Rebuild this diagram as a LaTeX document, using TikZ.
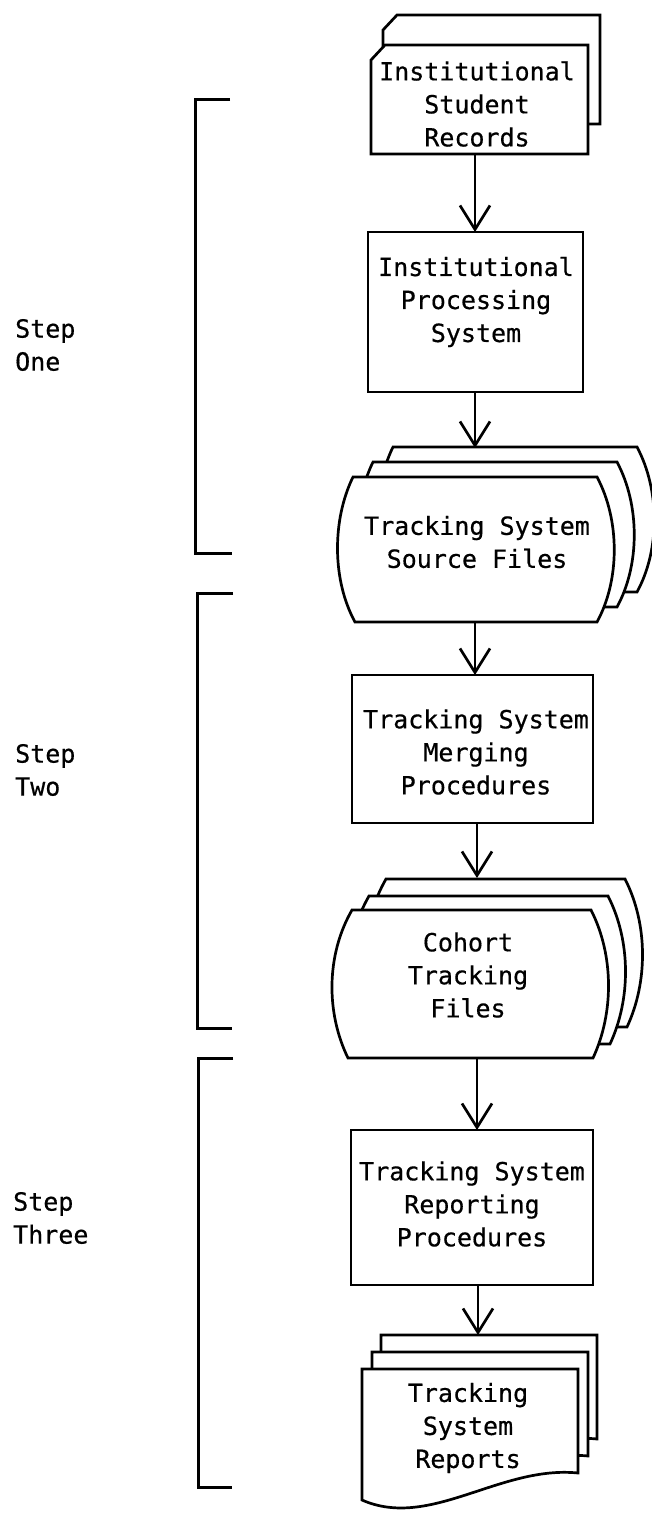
\documentclass[tikz,border=0pt]{standalone}
\usepackage{fontspec}
\newfontfamily\flowmono{DejaVu Sans Mono}[FakeBold=0.5]
\usetikzlibrary{arrows.meta}

\begin{document}
\begin{tikzpicture}[x=1pt,y=-1pt,
  sheet/.style={draw,fill=white,line width=2.7pt},
  procbox/.style={draw,line width=2.7pt,inner sep=0pt,outer sep=0pt},
  txt/.style={font=\flowmono\fontsize{25}{33}\selectfont,align=center,inner sep=0pt},
  steptxt/.style={txt,align=left,anchor=west},
  flow/.style={line width=2.7pt,-{Straight Barb[length=24pt,width=30pt,line width=2.7pt]}},
  bracket/.style={line width=3pt}]
  \useasboundingbox (0,0) rectangle (651,1513);

  % Institutional Student Records
  \draw[sheet] (383,124) -- (383,30) -- (397,15) -- (600,15) -- (600,124) -- cycle;
  \draw[sheet] (371,154) -- (371,60) -- (385,45) -- (588,45) -- (588,154) -- cycle;
  \node[txt] (records) at (477,104) {Institutional\\Student\\Records};
  \coordinate (records-s) at (475,154);

  % Institutional Processing System
  \node[procbox,minimum width=215pt,minimum height=160pt] (procsys) at (475.5,312) {};
  \node[txt] (procsys-txt) at (476,302) {Institutional\\Processing\\System};

  % Tracking System Source Files
  \draw[sheet,shift={(40,-30)}] (353,477) -- (597,477) .. controls (620,520) and (620,580) .. (597,622) -- (355,622) .. controls (332,580) and (332,520) .. (353,477) -- cycle;
  \draw[sheet,shift={(20,-15)}] (353,477) -- (597,477) .. controls (620,520) and (620,580) .. (597,622) -- (355,622) .. controls (332,580) and (332,520) .. (353,477) -- cycle;
  \draw[sheet] (353,477) -- (597,477) .. controls (620,520) and (620,580) .. (597,622) -- (355,622) .. controls (332,580) and (332,520) .. (353,477) -- cycle;
  \node[txt] (srcfiles) at (477,542) {Tracking System\\Source Files};
  \coordinate (srcfiles-n) at (475,448);
  \coordinate (srcfiles-s) at (475,622);

  % Tracking System Merging Procedures
  \node[procbox,minimum width=241pt,minimum height=148pt] (merging) at (472.5,749) {};
  \node[txt] (merging-txt) at (476,752) {Tracking System\\Merging\\Procedures};

  % Cohort Tracking Files
  \draw[sheet,shift={(34,-31)}] (352,910) -- (591,910) .. controls (614,955) and (614,1013) .. (593,1058) -- (348,1058) .. controls (326,1013) and (326,955) .. (352,910) -- cycle;
  \draw[sheet,shift={(17,-14)}] (352,910) -- (591,910) .. controls (614,955) and (614,1013) .. (593,1058) -- (348,1058) .. controls (326,1013) and (326,955) .. (352,910) -- cycle;
  \draw[sheet] (352,910) -- (591,910) .. controls (614,955) and (614,1013) .. (593,1058) -- (348,1058) .. controls (326,1013) and (326,955) .. (352,910) -- cycle;
  \node[txt] (cohort) at (468,975) {Cohort\\Tracking\\Files};
  \coordinate (cohort-n) at (477,878);
  \coordinate (cohort-s) at (477,1058);

  % Tracking System Reporting Procedures
  \node[procbox,minimum width=242pt,minimum height=155pt] (reporting) at (472,1207.5) {};
  \node[txt] (reporting-txt) at (472,1204) {Tracking System\\Reporting\\Procedures};

  % Tracking System Reports
  \draw[sheet,shift={(19,-34)}] (362,1369) -- (578,1369) -- (578,1473) .. controls (500,1465) and (430,1530) .. (362,1500) -- cycle;
  \draw[sheet,shift={(10,-17)}] (362,1369) -- (578,1369) -- (578,1473) .. controls (500,1465) and (430,1530) .. (362,1500) -- cycle;
  \draw[sheet] (362,1369) -- (578,1369) -- (578,1473) .. controls (500,1465) and (430,1530) .. (362,1500) -- cycle;
  \node[txt] (reports) at (468,1428) {Tracking\\System\\Reports};
  \coordinate (reports-n) at (478,1335);

  % flow arrows
  \draw[flow] (records-s) -- (records-s |- procsys.north);
  \draw[flow] (procsys.south -| srcfiles-n) -- (srcfiles-n);
  \draw[flow] (srcfiles-s) -- (srcfiles-s |- merging.north);
  \draw[flow] (merging.south -| cohort-n) -- (cohort-n);
  \draw[flow] (cohort-s) -- (cohort-s |- reporting.north);
  \draw[flow] (reporting.south -| reports-n) -- (reports-n);

  % step brackets
  \draw[bracket] (230,99) -- (195,99) -- (195,553) -- (232,553);
  \draw[bracket] (233,593) -- (197,593) -- (197,1028) -- (232,1028);
  \draw[bracket] (233,1058) -- (198,1058) -- (198,1487) -- (232,1487);
  \node[steptxt] (stepone) at (15,345) {Step\\One};
  \node[steptxt] (steptwo) at (15,770) {Step\\Two};
  \node[steptxt] (stepthree) at (13,1218) {Step\\Three};
\end{tikzpicture}
\end{document}
